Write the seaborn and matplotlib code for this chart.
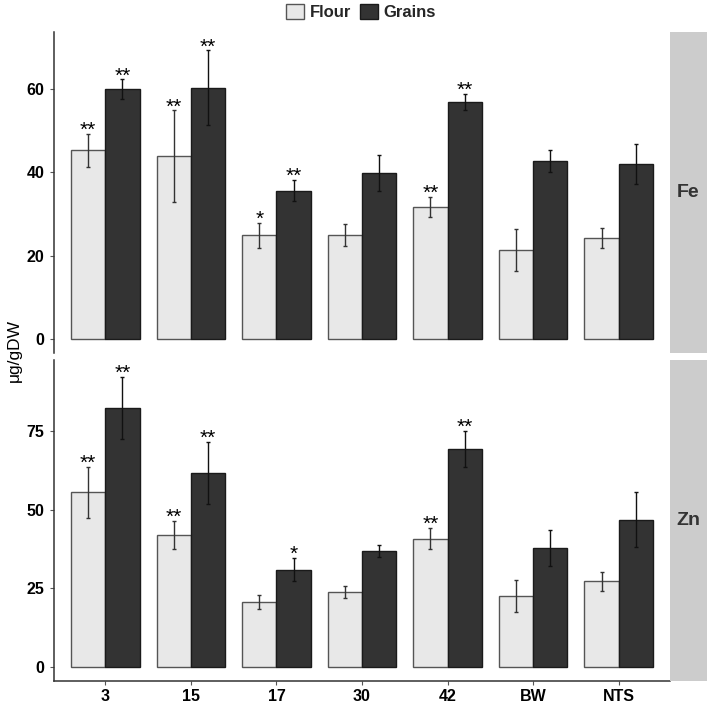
import pandas as pd
import matplotlib
matplotlib.use("Agg")
import matplotlib.pyplot as plt
from matplotlib.patches import Patch
import seaborn as sns

lines = ['3', '15', '17', '30', '42', 'BW', 'NTS']

fe_flour = [45.3, 43.9, 24.9, 24.9, 31.7, 21.4, 24.2]
fe_flour_err = [4.0, 11.0, 3.0, 2.6, 2.4, 5.0, 2.4]
fe_grains = [60.0, 60.3, 35.6, 39.9, 56.9, 42.7, 42.0]
fe_grains_err = [2.3, 9.0, 2.6, 4.3, 1.9, 2.6, 4.8]
fe_flour_sig = ['**', '**', '*', '', '**', '', '']
fe_grains_sig = ['**', '**', '**', '', '**', '', '']

zn_flour = [55.6, 42.1, 20.6, 23.9, 40.8, 22.5, 27.2]
zn_flour_err = [8.1, 4.5, 2.3, 2.0, 3.4, 5.0, 2.9]
zn_grains = [82.4, 61.7, 30.9, 36.9, 69.3, 37.9, 46.9]
zn_grains_err = [10.0, 10.0, 3.7, 1.8, 5.8, 5.7, 8.8]
zn_flour_sig = ['**', '**', '', '', '**', '', '']
zn_grains_sig = ['**', '**', '*', '', '**', '', '']

types = ['Flour', 'Grains']
fills = {'Flour': '#E8E8E8', 'Grains': '#333333'}
edges = {'Flour': '#555555', 'Grains': '#1A1A1A'}
errcol = {'Flour': '#333333', 'Grains': '#111111'}

FONT = 'Liberation Sans'


def make_frame(flour, grains):
    rows = []
    for i, ln in enumerate(lines):
        rows.append({'line': ln, 'type': 'Flour', 'value': flour[i]})
        rows.append({'line': ln, 'type': 'Grains', 'value': grains[i]})
    return pd.DataFrame(rows)


def draw_panel(ax, flour, grains, ferr, gerr, fsig, gsig, ylim, yticks, bottom):
    df = make_frame(flour, grains)
    sns.barplot(data=df, x='line', y='value', hue='type', order=lines,
                hue_order=types, palette=fills, errorbar=None, width=0.8,
                linewidth=1.0, legend=False, ax=ax)
    errs = {'Flour': ferr, 'Grains': gerr}
    sigs = {'Flour': fsig, 'Grains': gsig}
    for cont, t in zip(ax.containers, types):
        xs = []
        hs = []
        for bar in cont:
            bar.set_edgecolor(edges[t])
            xs.append(bar.get_x() + bar.get_width() / 2)
            hs.append(bar.get_height())
        ax.errorbar(xs, hs, yerr=errs[t], fmt='none', ecolor=errcol[t],
                    elinewidth=1.0, capsize=1.6, capthick=1.0, zorder=5)
        # significance stars above the error bars
        for x, h, e, s in zip(xs, hs, errs[t], sigs[t]):
            if s:
                ax.annotate(s, (x, h + e), xytext=(0, -1.5),
                            textcoords='offset points', ha='center',
                            va='baseline', fontsize=15, family=FONT,
                            color='black')
    ax.set_xlim(-0.6, 6.6)
    ax.set_ylim(*ylim)
    ax.set_yticks(yticks)
    ax.set_xlabel('')
    ax.set_ylabel('')
    for sp in ['top', 'right']:
        ax.spines[sp].set_visible(False)
    ax.spines['left'].set_color('#333333')
    ax.spines['left'].set_linewidth(1.1)
    ax.tick_params(axis='y', left=True, length=3, width=0.8, color='#555555',
                   pad=4, labelsize=11.5)
    if bottom:
        ax.spines['bottom'].set_color('#333333')
        ax.spines['bottom'].set_linewidth(1.1)
        ax.tick_params(axis='x', bottom=True, length=3, width=0.8,
                       color='#555555', pad=3, labelsize=11.5)
    else:
        ax.spines['bottom'].set_visible(False)
        ax.tick_params(axis='x', bottom=False, labelbottom=False)
    for lab in ax.get_yticklabels() + ax.get_xticklabels():
        lab.set_fontweight('bold')
        lab.set_family(FONT)
        lab.set_color('black')


sns.set_theme(style='white')
plt.rcParams['font.family'] = [FONT, 'DejaVu Sans']

W, H = 708, 703
fig = plt.figure(figsize=(W / 100, H / 100), dpi=100)

x0, x1 = 54, 670
top_ax = fig.add_axes([x0 / W, 1 - 353 / H, (x1 - x0) / W, (353 - 32) / H])
bot_ax = fig.add_axes([x0 / W, 1 - 681 / H, (x1 - x0) / W, (681 - 360) / H])

draw_panel(top_ax, fe_flour, fe_grains, fe_flour_err, fe_grains_err,
           fe_flour_sig, fe_grains_sig, (-3.4, 73.7), [0, 20, 40, 60], False)
draw_panel(bot_ax, zn_flour, zn_grains, zn_flour_err, zn_grains_err,
           zn_flour_sig, zn_grains_sig, (-4.5, 97.7), [0, 25, 50, 75], True)

# facet strips
for (ya, yb), lab in [((32, 353), 'Fe'), ((360, 681), 'Zn')]:
    sax = fig.add_axes([x1 / W, 1 - yb / H, 37 / W, (yb - ya) / H])
    sax.set_facecolor('#CCCCCC')
    sax.set_xticks([])
    sax.set_yticks([])
    for sp in sax.spines.values():
        sp.set_visible(False)
    sax.text(0.5, 0.5, lab, ha='center', va='center', fontsize=14,
             fontweight='bold', color='#333333', family=FONT,
             transform=sax.transAxes)

fig.text(14 / W, 1 - 350 / H, 'μg/gDW', rotation=90, ha='center', va='center',
         fontsize=12.5, family=FONT, color='black')

handles = [Patch(facecolor=fills[t], edgecolor=edges[t], linewidth=1.0, label=t)
           for t in types]
fig.legend(handles=handles, loc='center', bbox_to_anchor=(361 / W, 1 - 12 / H),
           ncol=2, frameon=False, handlelength=1.05, handleheight=1.05,
           handletextpad=0.35, columnspacing=0.55,
           prop={'family': FONT, 'weight': 'bold', 'size': 12})

fig.savefig('out.png', dpi=100)
